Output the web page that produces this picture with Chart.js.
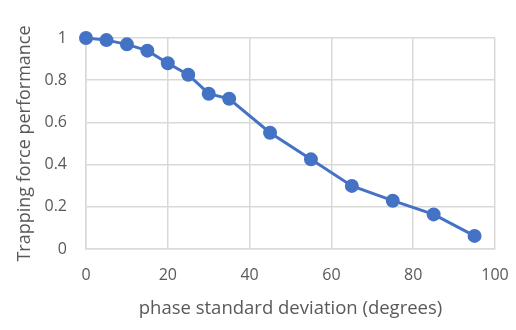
<!DOCTYPE html>
<html>
<head>
<meta charset="utf-8">
<script src="https://cdn.jsdelivr.net/npm/chart.js@4"></script>
<style>
  html, body { margin: 0; padding: 0; background: #fff; }
  #wrap { width: 516px; height: 330px; }
</style>
</head>
<body>
<div id="wrap"><canvas id="chart" width="516" height="330"></canvas></div>
<script>
// Data
const phaseStd = [0, 5, 10, 15, 20, 25, 30, 35, 45, 55, 65, 75, 85, 95];
const performance = [1, 0.99, 0.97, 0.94, 0.88, 0.826, 0.736, 0.712, 0.551, 0.425, 0.299, 0.229, 0.164, 0.062];
const xTicks = [0, 20, 40, 60, 80, 100];
const yTicks = [0, 0.2, 0.4, 0.6, 0.8, 1];

const points = phaseStd.map((x, i) => ({ x: x, y: performance[i] }));

const ctx = document.getElementById('chart').getContext('2d');
new Chart(ctx, {
  type: 'scatter',
  data: {
    datasets: [{
      data: points,
      showLine: true,
      borderColor: '#4472C4',
      backgroundColor: '#4472C4',
      borderWidth: 3,
      pointRadius: 5.5,
      pointHoverRadius: 5.5,
      clip: false
    }]
  },
  options: {
    responsive: false,
    animation: false,
    layout: { padding: { top: 38, right: 21, bottom: 10, left: 14 } },
    plugins: {
      legend: { display: false },
      tooltip: { enabled: false }
    },
    scales: {
      x: {
        type: 'linear',
        min: 0,
        max: 100,
        afterBuildTicks: axis => { axis.ticks = xTicks.map(v => ({ value: v })); },
        afterFit: axis => { axis.height = 71; axis.paddingRight = 0; axis.paddingLeft = 0; },
        grid: { color: '#d9d9d9', lineWidth: 1.5, drawTicks: false },
        border: { color: '#d9d9d9', width: 1.5 },
        ticks: { color: '#595959', font: { family: 'Open Sans', size: 16 }, padding: 17, callback: v => String(v) },
        title: { display: true, text: 'phase standard deviation (degrees)', color: '#595959', font: { family: 'Open Sans', size: 18.5 }, padding: { top: 6, bottom: 0 } }
      },
      y: {
        type: 'linear',
        min: 0,
        max: 1,
        afterBuildTicks: axis => { axis.ticks = yTicks.map(v => ({ value: v })); },
        afterFit: axis => { axis.width = 72; },
        grid: { color: '#d9d9d9', lineWidth: 1.5, drawTicks: false },
        border: { color: '#d9d9d9', width: 1.5 },
        ticks: { color: '#595959', font: { family: 'Open Sans', size: 16 }, padding: 19, callback: v => String(v) },
        title: { display: true, text: 'Trapping force performance', color: '#595959', font: { family: 'Open Sans', size: 18 }, padding: { top: 0, bottom: 4 } }
      }
    }
  }
});
</script>
</body>
</html>
